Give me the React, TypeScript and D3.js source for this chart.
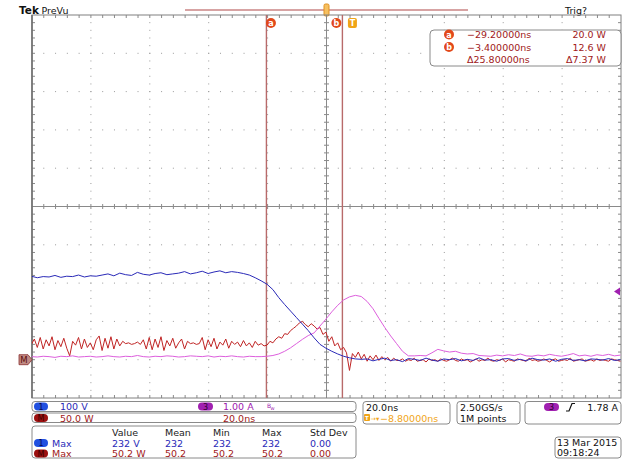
import React from 'react';
import * as d3 from 'd3';

const W = 623;
const H = 461;

// sampling of the three traces (ns)
const timeStart = -109;
const ch1Step = 2;
const ch3Step = 2;
const mathStep = 1;

// Channel 1 (V), 100 V/div
const ch1Volts = [
  218, 214, 217, 216, 220, 215, 218, 217, 221, 216, 219, 218, 221,
  224, 219, 226, 222, 220, 228, 223, 221, 225, 227, 222, 224,
  226, 230, 224, 227, 231, 225, 229, 232, 227, 230,
  228, 225, 221, 214, 206, 197, 183, 162, 144, 127, 110, 93, 76, 57, 40, 30, 22, 15, 9, 5, 2, 1,
  2, -3, 1, 4, -2, 0, -5, 3, 1, -2,
  4, -1, -4, 2, 0, 3, -3, 1, -2, 5,
  -1, 0, -4, 2, 3, -2, 1, -3, 4, 0,
  -1, 2, -4, 1, 3, -2, 0, -3, 2, 1,
  -1, 3, -2, 0,
];

// Channel 3 (A), 1.00 A/div
const ch3Amps = [
  0.08, 0.07, 0.09, 0.08, 0.06, 0.09, 0.08, 0.10, 0.07, 0.08,
  0.09, 0.07, 0.08, 0.10, 0.08, 0.07, 0.09, 0.08, 0.11, 0.08,
  0.07, 0.09, 0.08, 0.10, 0.09, 0.07, 0.08, 0.10, 0.09, 0.08,
  0.10, 0.07, 0.09, 0.08, 0.10, 0.08, 0.07, 0.09, 0.08, 0.08,
  0.09, 0.11, 0.15, 0.22, 0.31, 0.42, 0.53, 0.63, 0.70, 0.88,
  1.06, 1.25, 1.42, 1.56, 1.64, 1.68, 1.65, 1.52, 1.33, 1.08,
  0.84, 0.62, 0.42, 0.22, 0.10, 0.10, 0.11, 0.10, 0.18, 0.27,
  0.23, 0.20, 0.22, 0.17, 0.15, 0.16, 0.11, 0.10,
  0.09, 0.12, 0.10, 0.13, 0.11, 0.15, 0.10, 0.09, 0.12, 0.10,
  0.14, 0.11, 0.09, 0.12, 0.16, 0.10, 0.12, 0.09, 0.13, 0.11,
  0.14, 0.10, 0.12,
];

// Math (W), 50.0 W/div
const mathWatts = [
  20, 27, 16, 29, 14, 26, 18, 30, 13, 25,
  17, 28, 15, 5, 24, 19, 29, 14, 27, 16,
  22, 13, 26, 31, 12, 28, 15, 30, 14, 27,
  18, 24, 21, 22, 20, 21, 23, 20, 26, 14,
  29, 13, 27, 16, 30, 12, 25, 18, 28, 15,
  22, 27, 14, 24, 21, 22, 20, 21, 29, 13,
  26, 17, 28, 14, 23, 19, 27, 15, 24, 20,
  23, 17, 25, 18, 22, 16, 24, 19, 21, 18,
  19, 24, 22, 27, 30, 28, 34, 33, 38, 41,
  44, 48, 50, 46, 43, 47, 44, 40, 42, 33,
  36, 24, 30, 18, 22, 13,
  16, 9, -14, 8, 3, 10, 1, 7, -2, 5, 0, 6, -1, 4, 0, 3, -2, 2, -1,
  -1, 1, -2, 0, -1, 2, -2, -1, 0, -3,
  1, -1, 0, -2, 1, -1, -2, 0, 2, -1,
  -2, 1, -1, 0, -3, -1, 1, -2, 0, -1,
  2, -1, -2, 0, -1, 1, -3, 0, -1, -2,
  1, 0, -1, -2, 2, -1, 0, -2, -1, 1,
  -1, -3, 0, 1, -2, -1, 0, -1, 2, -2,
  -1, 0, 1, -2, -1, 0, -2, 1, -1, 0,
  -1, -2, 1, 0, -1, -2,
];

const ch1PerDiv = 100;
const ch3PerDiv = 1;
const mathPerDiv = 50;
const groundDiv = -4;

const timeDomain = [-108.8, 91.2];
const cursorA = -29.2;
const cursorB = -3.4;
const triggerTime = 0;
const centerTime = -8.8;
const trigLevel = 1.78;

const cursorRows = [
  { id: 'a', time: '\u221229.20000ns', val: '20.0 W' },
  { id: 'b', time: '\u22123.400000ns', val: '12.6 W' },
  { id: '', time: '\u039425.80000ns', val: '\u03947.37 W' },
];

const measHeaders = ['Value', 'Mean', 'Min', 'Max', 'Std Dev'];
const measRow1 = ['232 V', '232', '232', '232', '0.00'];
const measRow2 = ['50.2 W', '50.2', '50.2', '50.2', '0.00'];

const FONT = 'DejaVu Sans, sans-serif';
const BLUE = '#2a2ab8';
const RED = '#c02424';
const MAG = '#dd5fdd';
const DARKRED = '#a01818';
const PURPLE = '#a020b0';

const L = 32, R = 621, T = 15, B = 398;

export default function App() {
  const x = d3.scaleLinear().domain(timeDomain).range([L, R]);
  const y = d3.scaleLinear().domain([-5, 5]).range([B, T]);
  const divW = (R - L) / 10;
  const divH = (B - T) / 10;

  const mk = (step: number, perDiv: number) =>
    d3
      .line<number>()
      .x((_, i) => x(timeStart + i * step))
      .y((d) => y(d / perDiv + groundDiv));

  const dots: JSX.Element[] = [];
  for (let i = 1; i < 10; i++) {
    if (i === 5) continue;
    const gx = L + i * divW;
    for (let k = 1; k < 50; k++) {
      dots.push(<rect key={`v${i}-${k}`} x={gx - 0.5} y={T + (k * divH) / 5 - 0.5} width={1} height={1} fill="#9a9a9a" />);
    }
    const gy = T + i * divH;
    for (let k = 1; k < 50; k++) {
      dots.push(<rect key={`h${i}-${k}`} x={L + (k * divW) / 5 - 0.5} y={gy - 0.5} width={1} height={1} fill="#9a9a9a" />);
    }
  }
  const ticks: JSX.Element[] = [];
  const cx = L + 5 * divW;
  const cy = T + 5 * divH;
  for (let k = 1; k < 50; k++) {
    const tx = L + (k * divW) / 5;
    ticks.push(<line key={`ch${k}`} x1={tx} x2={tx} y1={cy - 2.5} y2={cy + 2.5} stroke="#8a8a8a" />);
    ticks.push(<line key={`tt${k}`} x1={tx} x2={tx} y1={T} y2={T + 3} stroke="#8a8a8a" />);
    ticks.push(<line key={`tb${k}`} x1={tx} x2={tx} y1={B - 3} y2={B} stroke="#8a8a8a" />);
    const ty = T + (k * divH) / 5;
    ticks.push(<line key={`cv${k}`} x1={cx - 2.5} x2={cx + 2.5} y1={ty} y2={ty} stroke="#8a8a8a" />);
    ticks.push(<line key={`tl${k}`} x1={L} x2={L + 3} y1={ty} y2={ty} stroke="#8a8a8a" />);
    ticks.push(<line key={`tr${k}`} x1={R - 3} x2={R} y1={ty} y2={ty} stroke="#8a8a8a" />);
  }

  const xa = x(cursorA);
  const xb = x(cursorB);
  const xt = x(triggerTime);
  const xc = x(centerTime);
  const measCols = [112, 165, 213, 262, 310];

  return (
    <div style={{ position: 'absolute', left: 0, top: 0 }}>
      <svg width={W} height={H} style={{ display: 'block', background: '#fff' }} fontFamily={FONT}>
        <defs>
          <clipPath id="grat">
            <rect x={L} y={T} width={R - L} height={B - T} />
          </clipPath>
        </defs>
        <rect x={0} y={0} width={W} height={H} fill="#fff" />
        {/* header */}
        <text x={19} y={14} fontSize={10.5} fontWeight="bold" fill="#111">Tek</text>
        <text x={41.5} y={14} fontSize={9.5} fill="#111">PreVu</text>
        <text x={565} y={14} fontSize={9.5} fill="#111">Trig?</text>
        <line x1={185} x2={468} y1={10} y2={10} stroke="#b04848" strokeWidth={1.2} />
        <rect x={xc - 2.5} y={4} width={5} height={12} rx={1.5} fill="#f6c060" stroke="#e09020" strokeWidth={1} />

        {/* graticule */}
        {dots}
        <line x1={L} x2={R} y1={cy} y2={cy} stroke="#8a8a8a" />
        <line x1={cx} x2={cx} y1={T} y2={B} stroke="#8a8a8a" />
        {ticks}
        <rect x={L} y={T} width={R - L} height={B - T} fill="none" stroke="#808080" strokeWidth={1} />
        <line x1={L} x2={L} y1={T} y2={B} stroke="#707070" strokeWidth={1.6} />

        {/* cursors */}
        <line x1={xa} x2={xa} y1={T} y2={B} stroke="#b86a6a" strokeWidth={1.4} />
        <line x1={xb} x2={xb} y1={T} y2={B} stroke="#b86a6a" strokeWidth={1.4} />
        <circle cx={xa + 4.5} cy={23} r={5} fill="#e2481a" />
        <text x={xa + 4.5} y={26} fontSize={8} fill="#fff" textAnchor="middle" fontWeight="bold">a</text>
        <circle cx={xb - 6} cy={23} r={5} fill="#e2481a" />
        <text x={xb - 6} y={26} fontSize={8} fill="#fff" textAnchor="middle" fontWeight="bold">b</text>
        <rect x={xt - 4.5} y={18} width={9} height={10} rx={2} fill="#f0a418" />
        <text x={xt} y={26} fontSize={8} fill="#fff" textAnchor="middle" fontWeight="bold">T</text>

        {/* traces */}
        <g clipPath="url(#grat)" fill="none" strokeWidth={1} strokeLinejoin="round">
          <path d={mk(mathStep, mathPerDiv)(mathWatts) || ''} stroke={RED} />
          <path d={mk(ch3Step, ch3PerDiv)(ch3Amps) || ''} stroke={MAG} />
          <path d={mk(ch1Step, ch1PerDiv)(ch1Volts) || ''} stroke={BLUE} />
        </g>

        {/* ground marker M */}
        <path d={`M19,${y(groundDiv) - 5} h9 l4,5 l-4,5 h-9 z`} fill="#c08a84" stroke="#8a3030" strokeWidth={0.8} />
        <text x={24} y={y(groundDiv) + 3.5} fontSize={8.5} fill="#5a0a0a" textAnchor="middle">M</text>
        {/* trigger level marker */}
        <path d={`M${R - 7},${y(trigLevel / ch3PerDiv + groundDiv)} l6,-4 v8 z`} fill={PURPLE} />

        {/* cursor readout */}
        <rect x={430} y={30} width={191} height={36} rx={4} fill="#fff" stroke="#8a8a8a" />
        {cursorRows.map((r, i) => {
          const by = 38 + i * 12.5;
          return (
            <g key={i}>
              {r.id && <circle cx={449} cy={by - 3.5} r={5} fill="#e2481a" />}
              {r.id && (
                <text x={449} y={by - 0.5} fontSize={8} fill="#fff" textAnchor="middle" fontWeight="bold">{r.id}</text>
              )}
              <text x={467} y={by} fontSize={9.5} fill={DARKRED}>{r.time}</text>
              <text x={606} y={by} fontSize={9.5} fill={DARKRED} textAnchor="end">{r.val}</text>
            </g>
          );
        })}

        {/* bottom: channel boxes */}
        <rect x={32} y={401.5} width={324} height={10} rx={3} fill="#fff" stroke="#8a8a8a" />
        <rect x={34} y={402.5} width={14} height={8} rx={4} fill="#2150e0" />
        <text x={41} y={409.5} fontSize={8} fill="#0a0a50" textAnchor="middle">1</text>
        <text x={60} y={410} fontSize={9.5} fill={BLUE}>100 V</text>
        <rect x={198} y={402.5} width={15} height={8} rx={4} fill={PURPLE} />
        <text x={205.5} y={409.5} fontSize={8} fill="#300030" textAnchor="middle">3</text>
        <text x={223} y={410} fontSize={9.5} fill={PURPLE}>1.00 A</text>
        <text x={267} y={408} fontSize={6} fill={PURPLE}>B</text>
        <text x={270.5} y={410} fontSize={5} fill={PURPLE}>w</text>

        <rect x={32} y={413} width={324} height={9.5} rx={3} fill="#fff" stroke="#8a8a8a" />
        <rect x={34} y={414} width={14} height={8} rx={4} fill="#9c1010" />
        <text x={41} y={421} fontSize={8} fill="#3a0000" textAnchor="middle">M</text>
        <text x={60} y={421.5} fontSize={9.5} fill={DARKRED}>50.0 W</text>
        <text x={223} y={421.5} fontSize={9.5} fill={DARKRED}>20.0ns</text>

        <rect x={32} y={426} width={324} height={32} rx={3} fill="#fff" stroke="#8a8a8a" />
        {measHeaders.map((h, i) => (
          <text key={h} x={measCols[i]} y={435.5} fontSize={9.5} fill="#222">{h}</text>
        ))}
        <rect x={34} y={439} width={14} height={8} rx={4} fill="#2150e0" />
        <text x={41} y={446} fontSize={8} fill="#0a0a50" textAnchor="middle">1</text>
        <text x={52} y={446.5} fontSize={9.5} fill={BLUE}>Max</text>
        {measRow1.map((v, i) => (
          <text key={`r1${i}`} x={measCols[i]} y={446.5} fontSize={9.5} fill={BLUE}>{v}</text>
        ))}
        <rect x={34} y={449.5} width={14} height={8} rx={4} fill="#9c1010" />
        <text x={41} y={456.5} fontSize={8} fill="#3a0000" textAnchor="middle">M</text>
        <text x={52} y={457} fontSize={9.5} fill={DARKRED}>Max</text>
        {measRow2.map((v, i) => (
          <text key={`r2${i}`} x={measCols[i]} y={457} fontSize={9.5} fill={DARKRED}>{v}</text>
        ))}

        {/* bottom right boxes */}
        <rect x={363} y={401.5} width={87} height={22.5} rx={3} fill="#fff" stroke="#8a8a8a" />
        <text x={366} y={410.5} fontSize={9.5} fill="#111">20.0ns</text>
        <rect x={364} y={414} width={6} height={7} rx={1} fill="#f0a418" />
        <text x={367} y={420} fontSize={5.5} fill="#fff" textAnchor="middle" fontWeight="bold">T</text>
        <text x={370.5} y={420.5} fontSize={6.5} fill="#f0a418">{'\u2192\u25BE'}</text>
        <text x={380} y={421.5} fontSize={9.5} fill="#f0a418">{'\u22128.80000ns'}</text>

        <rect x={457} y={401.5} width={63} height={22.5} rx={3} fill="#fff" stroke="#8a8a8a" />
        <text x={460} y={410.5} fontSize={9.5} fill="#111">2.50GS/s</text>
        <text x={460} y={421.5} fontSize={9.5} fill="#111">1M points</text>

        <rect x={525} y={401.5} width={96} height={22.5} rx={3} fill="#fff" stroke="#8a8a8a" />
        <rect x={544} y={403} width={15} height={8} rx={4} fill={PURPLE} />
        <text x={551.5} y={410} fontSize={8} fill="#300030" textAnchor="middle">3</text>
        <path d="M566,411 L569,411 L572,403.5 L575,403.5" fill="none" stroke="#111" strokeWidth={1.2} />
        <text x={618} y={411} fontSize={9.5} fill="#111" textAnchor="end">1.78 A</text>

        <rect x={555} y={437} width={66} height={21} rx={3} fill="#fff" stroke="#8a8a8a" />
        <text x={557} y={446} fontSize={9.5} fill="#111">13 Mar 2015</text>
        <text x={557} y={456} fontSize={9.5} fill="#111">09:18:24</text>
      </svg>
    </div>
  );
}
